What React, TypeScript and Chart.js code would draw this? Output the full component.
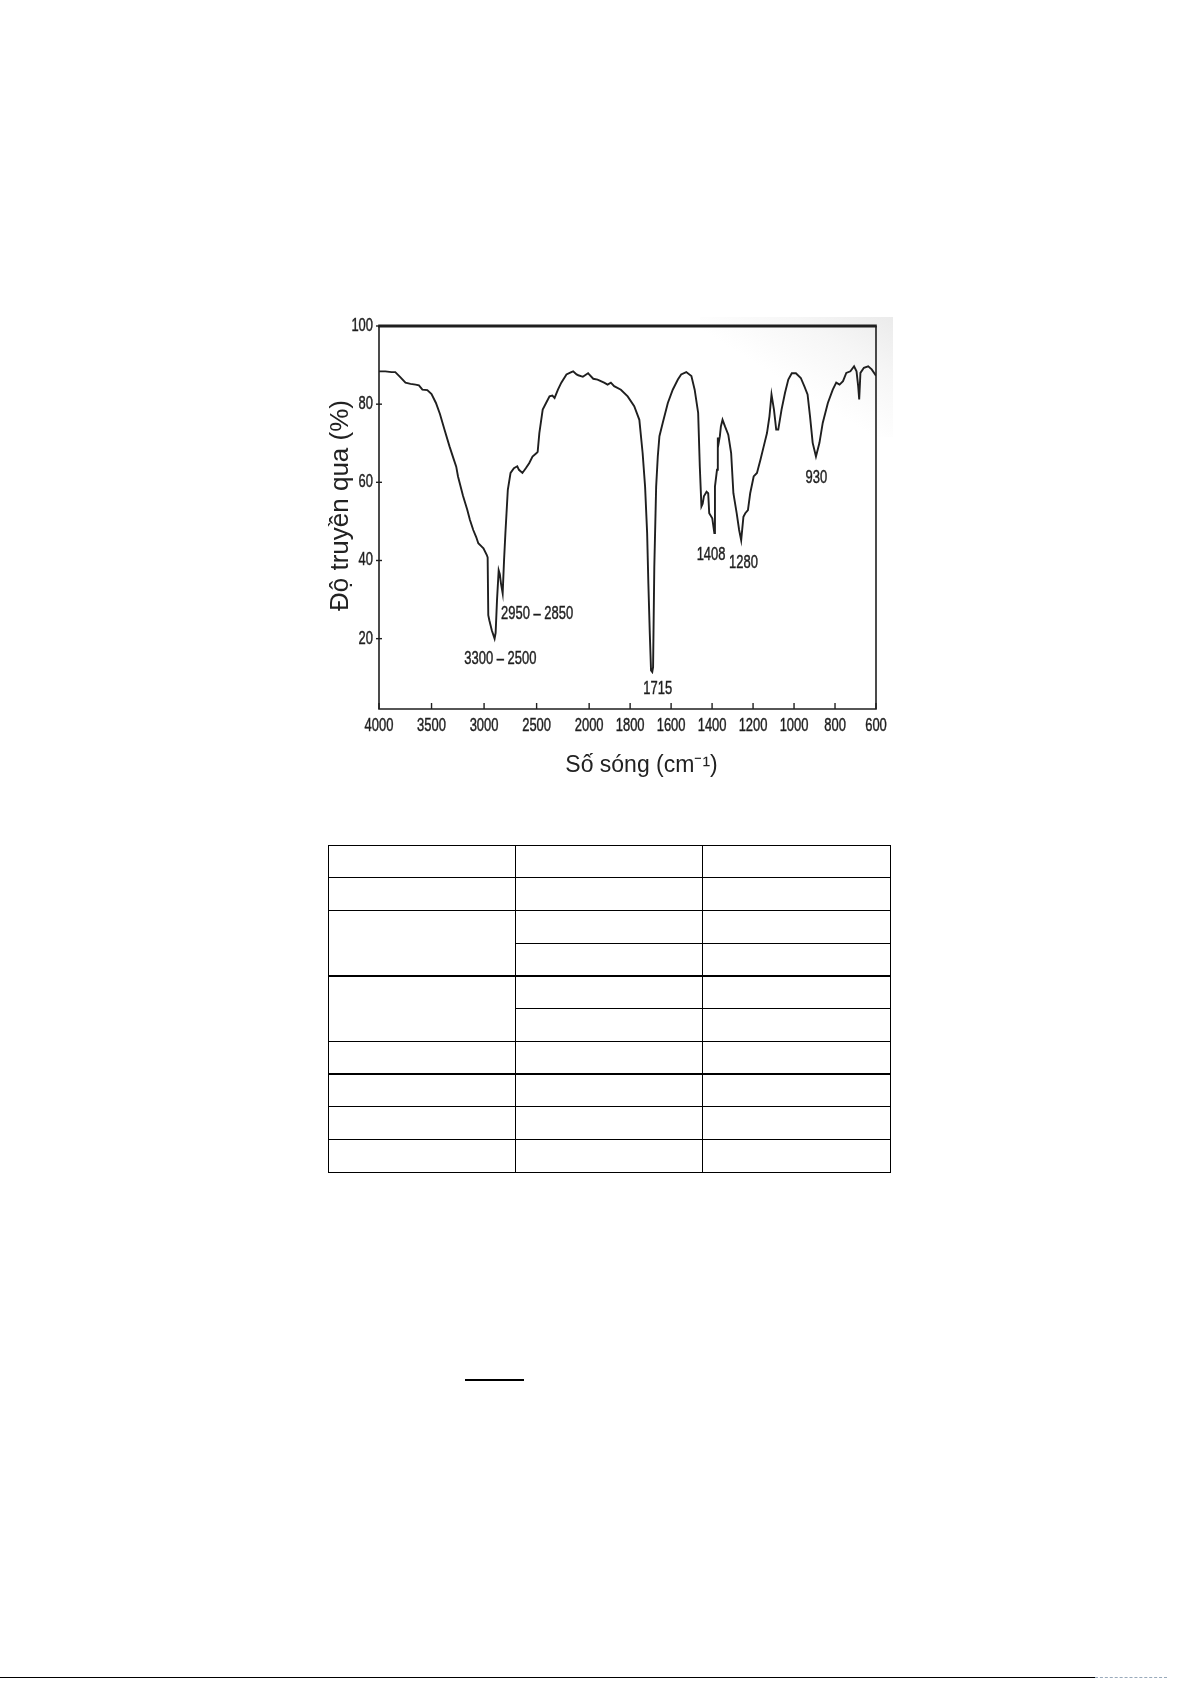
import React, { useEffect, useRef } from "react";
import { Chart, registerables, LinearScale } from "chart.js";

Chart.register(...registerables);

// ---------------- data ----------------
const WAVENUMBERS = [
  4000, 3940, 3880, 3845, 3800, 3748, 3700, 3652, 3620, 3587,
  3540, 3500, 3458, 3420, 3377, 3329, 3290, 3265, 3248, 3200,
  3160, 3135, 3103, 3075, 3055, 3020, 3006, 2974, 2966, 2960,
  2950, 2926, 2900, 2890, 2877, 2861, 2850, 2839, 2823, 2810,
  2797, 2774, 2748, 2716, 2684, 2668, 2635, 2603, 2571, 2539,
  2500, 2490, 2474, 2442, 2410, 2377, 2350, 2329, 2297, 2265,
  2216, 2170, 2152, 2120, 2103, 2060, 2039, 2010, 2000, 1980,
  1959, 1927, 1910, 1894, 1878, 1845, 1812, 1780, 1755, 1739,
  1727, 1717, 1711, 1704, 1698, 1692, 1688, 1682, 1673, 1665,
  1657, 1641, 1616, 1592, 1567, 1551, 1526, 1501, 1485, 1468,
  1460, 1452, 1446, 1440, 1427, 1419, 1414, 1399, 1389, 1386,
  1376, 1372, 1368, 1362, 1357, 1349, 1337, 1321, 1307, 1296,
  1280, 1268, 1258, 1247, 1238, 1225, 1214, 1197, 1181, 1164,
  1148, 1132, 1120, 1110, 1098, 1087, 1077, 1061, 1044, 1028,
  1011, 991, 967, 950, 934, 922, 909, 893, 876, 860,
  835, 811, 794, 778, 761, 745, 725, 707, 695, 687,
  682, 676, 659, 638, 621, 600,
];
const TRANSMITTANCE = [
  88.4, 88.4, 88.2, 88.2, 87.0, 85.5, 85.2, 85.0, 84.8, 83.7,
  83.6, 82.6, 80.3, 77.5, 73.5, 69.2, 66.0, 64.0, 61.5, 56.5,
  53.0, 50.4, 47.8, 46.0, 44.4, 43.5, 43.1, 41.4, 40.8, 26.0,
  24.7, 22.1, 20.0, 21.5, 29.8, 37.5, 36.5, 34.1, 31.6, 40.0,
  47.0, 58.1, 62.4, 63.6, 64.1, 63.2, 62.4, 63.6, 64.9, 66.6,
  67.5, 67.8, 72.6, 78.6, 80.3, 82.0, 82.2, 81.6, 83.7, 85.5,
  87.6, 88.2, 88.4, 87.6, 87.4, 87.0, 87.4, 87.9, 87.6, 86.5,
  86.3, 85.5, 85.0, 85.5, 84.6, 83.7, 82.0, 79.5, 76.0, 67.5,
  58.9, 47.0, 34.1, 21.3, 11.9, 11.5, 12.7, 38.4, 58.9, 66.6,
  71.8, 75.2, 80.3, 83.7, 86.3, 87.6, 88.2, 87.2, 83.7, 77.8,
  64.1, 53.8, 54.5, 56.4, 57.6, 57.2, 52.1, 50.8, 47.0, 58.9,
  63.2, 71.5, 70.0, 71.8, 74.3, 76.0, 74.3, 72.2, 67.5, 57.2,
  52.1, 47.8, 45.2, 51.2, 52.1, 52.9, 57.2, 61.5, 62.4, 65.8,
  69.2, 72.6, 76.9, 82.5, 78.6, 73.5, 73.5, 78.6, 82.9, 86.3,
  87.9, 87.9, 86.7, 84.6, 82.5, 76.9, 70.1, 66.6, 70.1, 75.2,
  80.3, 83.7, 85.5, 85.0, 85.9, 88.0, 88.4, 89.7, 88.4, 84.6,
  81.2, 88.0, 89.3, 89.7, 88.9, 87.3,
];
const X_TICKS = [4000, 3500, 3000, 2500, 2000, 1800, 1600, 1400, 1200, 1000, 800, 600];
const Y_TICKS = [20, 40, 60, 80, 100];
const PEAK_LABELS = ["3300 – 2500", "2950 – 2850", "1715", "1408", "1280", "930"];
const PEAK_LABEL_X = [2845, 2838, 1665, 1405, 1247, 891];
const PEAK_LABEL_Y = [14.9, 26.4, 7.1, 41.4, 39.3, 61.0];
const PEAK_LABEL_ALIGN = ["center", "left", "center", "center", "center", "center"];
const X_TITLE = "Số sóng (cm⁻¹)";
const Y_TITLE = "Độ truyền qua (%)";

// table layout (empty grid)
const TABLE_ROWS = 10;
const TABLE_COLS = 3;
const TABLE_MERGED_FIRST_COL = [[2, 3], [4, 5]];

// ---------------- piecewise wavenumber scale ----------------
const BREAK = 2000;
const RATIO = 1.95;

class WaveScale extends LinearScale {
  static id = "wave";
  static defaults = LinearScale.defaults;
  warp(v: number) {
    return v <= BREAK ? v : BREAK + (v - BREAK) / RATIO;
  }
  unwarp(u: number) {
    return u <= BREAK ? u : BREAK + (u - BREAK) * RATIO;
  }
  getPixelForValue(value: any) {
    if (value === null || value === undefined || isNaN(value)) return NaN;
    const a = this.warp(this.min);
    const b = this.warp(this.max);
    return this.getPixelForDecimal((this.warp(value) - a) / (b - a));
  }
  getValueForPixel(pixel: number) {
    const a = this.warp(this.min);
    const b = this.warp(this.max);
    return this.unwarp(a + this.getDecimalForPixel(pixel) * (b - a));
  }
}
Chart.register(WaveScale as any);

function pickFont(cands: string[], fallback: string) {
  const c = document.createElement("canvas").getContext("2d");
  if (!c) return fallback;
  const test = "mmmmmmwwwlli 40001234";
  for (const f of cands) {
    c.font = "40px monospace";
    const w0 = c.measureText(test).width;
    c.font = `40px "${f}", monospace`;
    const w1 = c.measureText(test).width;
    c.font = "40px serif";
    const w2 = c.measureText(test).width;
    c.font = `40px "${f}", serif`;
    const w3 = c.measureText(test).width;
    if (w0 !== w1 || w2 !== w3) return `"${f}"`;
  }
  return fallback;
}

function IRChart() {
  const ref = useRef<HTMLCanvasElement | null>(null);
  useEffect(() => {
    if (!ref.current) return;
    const sans = pickFont(["Liberation Sans", "Arial", "Roboto"], "sans-serif");
    const INK = "#1f1f1f";
    const LABEL_FONT = `18px ${sans}`;
    const SQUEEZE = 0.72;

    const squeezed = (ctx: any, txt: string, x: number, y: number, align: string) => {
      ctx.save();
      ctx.translate(x, y);
      ctx.scale(SQUEEZE, 1);
      ctx.textAlign = align;
      ctx.lineWidth = 0.45;
      ctx.strokeStyle = INK;
      ctx.fillText(txt, 0, 0);
      ctx.strokeText(txt, 0, 0);
      ctx.restore();
    };

    const framePlugin = {
      id: "irFrame",
      afterDatasetsDraw(chart: any) {
        const { ctx, chartArea: a, scales } = chart;
        ctx.save();
        ctx.strokeStyle = INK;
        ctx.lineWidth = 1.6;
        ctx.beginPath();
        ctx.moveTo(a.left, a.top);
        ctx.lineTo(a.left, a.bottom);
        ctx.lineTo(a.right, a.bottom);
        ctx.lineTo(a.right, a.top);
        ctx.stroke();
        ctx.lineWidth = 3;
        ctx.beginPath();
        ctx.moveTo(a.left - 0.8, a.top);
        ctx.lineTo(a.right + 0.8, a.top);
        ctx.stroke();
        ctx.lineWidth = 1.4;
        for (const t of scales.x.ticks) {
          const px = scales.x.getPixelForValue(t.value);
          ctx.beginPath();
          ctx.moveTo(px, a.bottom);
          ctx.lineTo(px, a.bottom - 6);
          ctx.stroke();
        }
        for (const t of scales.y.ticks) {
          const py = scales.y.getPixelForValue(t.value);
          ctx.beginPath();
          ctx.moveTo(a.left - 3, py);
          ctx.lineTo(a.left + 3, py);
          ctx.stroke();
        }
        ctx.restore();
      },
      afterDraw(chart: any) {
        const { ctx, chartArea: a, scales } = chart;
        ctx.save();
        ctx.fillStyle = INK;
        ctx.textBaseline = "middle";
        ctx.font = LABEL_FONT;
        // tick labels from the scales' own ticks
        for (const t of scales.x.ticks) {
          squeezed(ctx, String(t.value), scales.x.getPixelForValue(t.value), a.bottom + 17, "center");
        }
        for (const t of scales.y.ticks) {
          squeezed(ctx, String(t.value), a.left - 6, scales.y.getPixelForValue(t.value), "right");
        }
        // peak annotations
        PEAK_LABELS.forEach((txt, i) => {
          squeezed(
            ctx,
            txt,
            scales.x.getPixelForValue(PEAK_LABEL_X[i]),
            scales.y.getPixelForValue(PEAK_LABEL_Y[i]),
            PEAK_LABEL_ALIGN[i]
          );
        });
        // axis titles
        ctx.fillStyle = "#222";
        ctx.textAlign = "center";
        ctx.font = `23px ${sans}`;
        ctx.fillText(X_TITLE, (a.left + a.right) / 2 + 14, a.bottom + 57);
        ctx.font = `26px ${sans}`;
        ctx.translate(a.left - 38, (a.top + a.bottom) / 2 - 12);
        ctx.rotate(-Math.PI / 2);
        ctx.fillText(Y_TITLE, 0, 0);
        ctx.restore();
      },
    };

    const chart = new Chart(ref.current, {
      type: "line",
      data: {
        datasets: [
          {
            data: WAVENUMBERS.map((w, i) => ({ x: w, y: TRANSMITTANCE[i] })),
            borderColor: INK,
            borderWidth: 1.9,
            pointRadius: 0,
            tension: 0,
            fill: false,
          },
        ],
      },
      options: {
        animation: false,
        responsive: false,
        events: [],
        layout: { padding: { left: 0, right: 44, top: 26, bottom: 0 } },
        plugins: { legend: { display: false }, tooltip: { enabled: false } },
        scales: {
          x: {
            type: "wave" as any,
            min: 600,
            max: 4000,
            reverse: true,
            grid: { display: false },
            border: { display: false },
            afterBuildTicks: (s: any) => {
              s.ticks = X_TICKS.map((v) => ({ value: v }));
            },
            afterFit: (s: any) => {
              s.height = 91;
            },
            ticks: { display: false, autoSkip: false },
          } as any,
          y: {
            type: "linear",
            min: 2,
            max: 100,
            grid: { display: false },
            border: { display: false },
            afterBuildTicks: (s: any) => {
              s.ticks = Y_TICKS.map((v) => ({ value: v }));
            },
            afterFit: (s: any) => {
              s.width = 79;
            },
            ticks: { display: false },
          },
        },
      },
      plugins: [framePlugin],
    });
    return () => chart.destroy();
  }, []);
  return (
    <canvas
      ref={ref}
      width={620}
      height={500}
      style={{ position: "absolute", left: 300, top: 300, width: 620, height: 500 }}
    />
  );
}

function EmptyTable() {
  const left = 328;
  const right = 890;
  const top = 845;
  const bottom = 1172;
  const rowH = (bottom - top) / TABLE_ROWS;
  const colW = (right - left) / TABLE_COLS;
  const lines: React.ReactNode[] = [];
  for (let i = 0; i <= TABLE_ROWS; i++) {
    const inMerge = TABLE_MERGED_FIRST_COL.some(([a, b]) => i > a && i <= b);
    const x0 = inMerge ? left + colW : left;
    lines.push(
      <div
        key={"h" + i}
        style={{ position: "absolute", left: x0, top: top + i * rowH - 0.5, width: right - x0 + 1, height: 1.3, background: "#000" }}
      />
    );
  }
  for (let j = 0; j <= TABLE_COLS; j++) {
    lines.push(
      <div
        key={"v" + j}
        style={{ position: "absolute", left: left + j * colW - 0.5, top: top - 0.5, width: 1.3, height: bottom - top + 1, background: "#000" }}
      />
    );
  }
  return <>{lines}</>;
}

export default function App() {
  return (
    <div style={{ position: "absolute", left: 0, top: 0, width: 1192, height: 1685, background: "#fff", overflow: "hidden" }}>
      <div
        style={{
          position: "absolute",
          left: 700,
          top: 317,
          width: 193,
          height: 120,
          background: "linear-gradient(to bottom left, #ebebeb 0%, #f6f6f6 25%, rgba(255,255,255,0) 55%)",
        }}
      />
      <IRChart />
      <EmptyTable />
      <div style={{ position: "absolute", left: 465, top: 1379, width: 59, height: 2, background: "#000" }} />
      <div style={{ position: "absolute", left: 0, top: 1677, width: 1095, height: 1, background: "#000" }} />
      <div style={{ position: "absolute", left: 1095, top: 1677, width: 72, height: 0, borderTop: "1px dashed #9ab" }} />
    </div>
  );
}
